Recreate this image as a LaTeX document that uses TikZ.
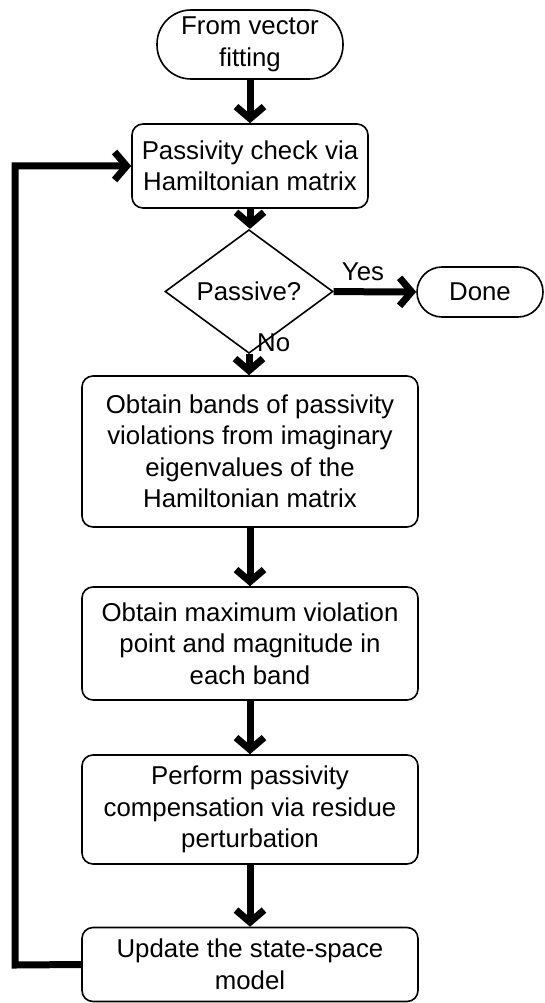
\documentclass[tikz,border=0pt]{standalone}
\usepackage{fontspec}
\setmainfont{Liberation Sans}
\usetikzlibrary{arrows.meta,shapes.geometric}
\begin{document}
\begin{tikzpicture}[x=1pt,y=-1pt,
  every node/.style={font=\fontsize{25.8}{31.5}\selectfont, align=center, inner sep=0pt},
  procbox/.style={draw, line width=1.6pt, rounded corners=11pt, minimum width=336pt},
  termbox/.style={draw, line width=1.6pt},
  decbox/.style={draw, diamond, line width=1.6pt, minimum width=168pt, minimum height=83pt},
  flow/.style={line width=7pt, line join=miter, -{Straight Barb[length=12pt,width=28pt]}},
  lbl/.style={}
]
\useasboundingbox (0,0) rectangle (545,1003);
\node[termbox, rounded corners=34pt, minimum width=186pt, minimum height=69pt] (start) at (250,44.5) {From vector\\fitting};
\node[procbox, minimum width=236pt, minimum height=84pt] (check) at (250,166) {Passivity check via\\Hamiltonian matrix};
\node[decbox] (dec) at (249,291.5) {Passive?};
\node[termbox, rounded corners=25pt, minimum width=126pt, minimum height=50pt] (done) at (480,292) {Done};
\node[procbox, minimum height=151pt] (b3) at (250,451.5) {Obtain bands of passivity\\violations from imaginary\\eigenvalues of the\\Hamiltonian matrix};
\node[procbox, minimum height=113pt] (b4) at (250,643.5) {Obtain maximum violation\\point and magnitude in\\each band};
\node[procbox, minimum height=109pt] (b5) at (250,809.5) {Perform passivity\\compensation via residue\\perturbation};
\node[procbox, minimum height=74pt] (b6) at (250,964.5) {Update the state-space\\model};
\node[lbl] (yes) at (363,272) {Yes};
\node[lbl, anchor=west] (no) at (257,343) {No};
\draw[flow] (start) -- (check);
\draw[flow] (check) -- (check.south |- dec.north);
\draw[flow] (dec) -- (done);
\draw[flow] (dec.south) -- (dec.south |- b3.north);
\draw[flow] (b3) -- (b4);
\draw[flow] (b4) -- (b5);
\draw[flow] (b5) -- (b6);
\coordinate (lp) at (15,965);
\draw[flow] (b6.west) -- (lp) |- (check.west);
\end{tikzpicture}
\end{document}
